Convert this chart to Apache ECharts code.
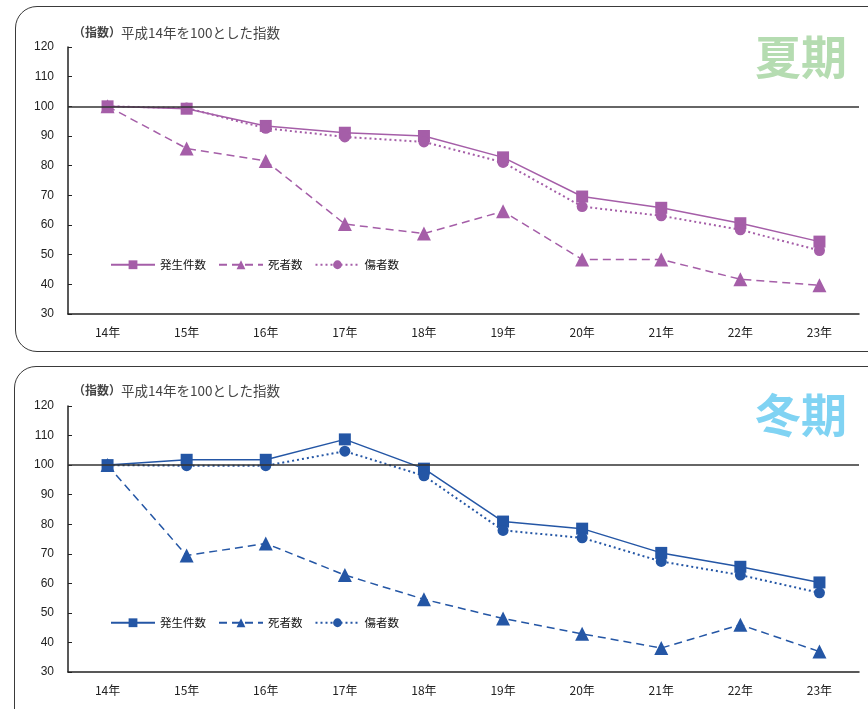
<!DOCTYPE html>
<html>
<head>
<meta charset="utf-8">
<script src="https://cdn.jsdelivr.net/npm/echarts@6/dist/echarts.min.js"></script>
<style>
  body { margin: 0; width: 868px; height: 709px; overflow: hidden; background: #fff; position: relative; }
  .panel { position: absolute; border: 1.5px solid #3a3a3a; border-radius: 22px; }
  #p1 { left: 15px; top: 6px; width: 920px; height: 344px; }
  #p2 { left: 14px; top: 366px; width: 920px; height: 380px; }
  #c1 { position: absolute; left: 0; top: 0; width: 868px; height: 358px; }
  #c2 { position: absolute; left: 0; top: 358px; width: 868px; height: 351px; }
</style>
</head>
<body>
<div class="panel" id="p1"></div>
<div class="panel" id="p2"></div>
<div id="c1"></div>
<div id="c2"></div>
<script>
const years = ["14年", "15年", "16年", "17年", "18年", "19年", "20年", "21年", "22年", "23年"];
const yTicks = { min: 30, max: 120, step: 10 };

// 夏期
const summerCases = [100, 99.2, 93.4, 91.1, 90.0, 82.8, 69.6, 65.8, 60.6, 54.4];
const summerDeaths = [100, 85.8, 81.6, 60.3, 57.1, 64.6, 48.4, 48.4, 41.7, 39.7];
const summerInjured = [100, 99.4, 92.6, 89.7, 88.0, 81.1, 66.2, 63.1, 58.4, 51.4];

// 冬期
const winterCases = [100, 101.8, 101.8, 108.7, 98.8, 80.9, 78.5, 70.3, 65.6, 60.3];
const winterDeaths = [100, 69.4, 73.5, 62.8, 54.6, 48.1, 42.9, 38.1, 46.0, 36.9];
const winterInjured = [100, 99.8, 99.8, 104.7, 96.4, 77.9, 75.4, 67.4, 62.8, 56.8];

const names = ["発生件数", "死者数", "傷者数"];

function buildOption(color, season, seasonColor, cases, deaths, injured, gridTop, gridBottom) {
  return {
    animation: false,
    color: [color, color, color],
    title: {
      left: 68,
      top: 21,
      text: "{a|（指数）}{b|平成14年を100とした指数}",
      textStyle: {
        fontWeight: "normal",
        rich: {
          a: { fontSize: 12, fontWeight: "bold", color: "#444", fontFamily: "Noto Sans CJK JP" },
          b: { fontSize: 13.5, fontWeight: "normal", color: "#444", fontFamily: "Noto Sans CJK JP" }
        }
      }
    },
    graphic: [{
      type: "text",
      right: 21,
      top: 34,
      style: {
        text: season,
        fontSize: 46,
        fontWeight: "bold",
        fontFamily: "Noto Sans CJK JP",
        fill: seasonColor
      }
    }],
    legend: {
      left: 105,
      top: 254,
      itemWidth: 44,
      itemHeight: 11,
      itemGap: 12,
      data: names,
      textStyle: { fontSize: 11.5, color: "#111", fontFamily: "Noto Sans CJK JP" }
    },
    grid: { left: 68, right: 9, top: gridTop, bottom: gridBottom },
    xAxis: {
      type: "category",
      data: years,
      boundaryGap: true,
      axisLine: { lineStyle: { color: "#222", width: 1.5 } },
      axisTick: { inside: true, length: 4, lineStyle: { color: "#222" } },
      axisLabel: { margin: 12, fontSize: 12, color: "#222", fontFamily: "Noto Sans CJK JP" },
      splitLine: { show: false }
    },
    yAxis: {
      type: "value",
      min: yTicks.min,
      max: yTicks.max,
      interval: yTicks.step,
      axisLine: { show: true, lineStyle: { color: "#222", width: 1.5 } },
      axisTick: { show: true, inside: true, length: 4, lineStyle: { color: "#222" } },
      axisLabel: { margin: 14, fontSize: 12, color: "#222", fontFamily: "Liberation Sans" },
      splitLine: { show: false }
    },
    series: [
      {
        name: names[0],
        type: "line",
        data: cases,
        symbol: "rect",
        symbolSize: 12,
        lineStyle: { width: 1.5, type: "solid" },
        markLine: {
          silent: true,
          symbol: "none",
          label: { show: false },
          lineStyle: { color: "#333", width: 1.5, type: "solid" },
          data: [{ yAxis: 100 }]
        }
      },
      {
        name: names[1],
        type: "line",
        data: deaths,
        symbol: "triangle",
        symbolSize: 14,
        lineStyle: { width: 1.5, type: [8, 5] }
      },
      {
        name: names[2],
        type: "line",
        data: injured,
        symbol: "circle",
        symbolSize: 11,
        lineStyle: { width: 2, type: [2, 3] }
      }
    ]
  };
}

const summerChart = echarts.init(document.getElementById("c1"));
summerChart.setOption(buildOption("#a55ea8", "夏期", "#b5dcb1", summerCases, summerDeaths, summerInjured, 47, 44));

const winterChart = echarts.init(document.getElementById("c2"));
winterChart.setOption(buildOption("#2456a5", "冬期", "#80d3f3", winterCases, winterDeaths, winterInjured, 48, 37));
</script>
</body>
</html>
